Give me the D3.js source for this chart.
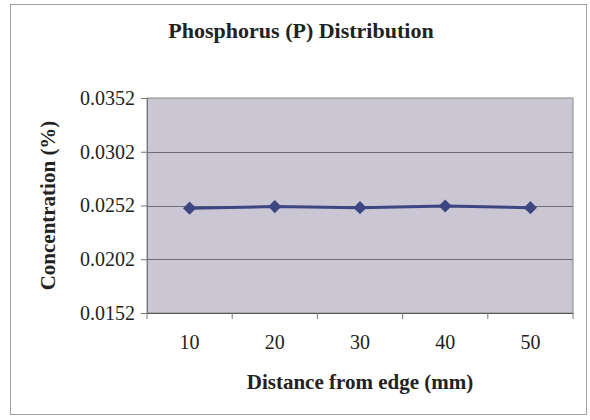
<!DOCTYPE html>
<html>
<head>
<meta charset="utf-8">
<script src="https://cdn.jsdelivr.net/npm/d3@7"></script>
<style>
  body { margin: 0; background: #fff; }
  text { font-family: "Liberation Serif", "Times New Roman", serif; fill: #222; }
</style>
</head>
<body>
<div id="chart"></div>
<script>
const distances = ["10", "20", "30", "40", "50"];
const concentration = [0.02495, 0.0251, 0.0250, 0.02515, 0.0250];
const yTicks = [0.0152, 0.0202, 0.0252, 0.0302, 0.0352];

const width = 590, height = 420;
const plot = { left: 147, right: 573, top: 98, bottom: 313 };

const svg = d3.select("#chart").append("svg")
  .attr("width", width)
  .attr("height", height);

// outer chart border
svg.append("rect")
  .attr("x", 10.5).attr("y", 4.5)
  .attr("width", 576).attr("height", 410)
  .attr("fill", "#fff")
  .attr("stroke", "#a0a0a0");

const x = d3.scaleBand()
  .domain(distances)
  .range([plot.left, plot.right]);

const y = d3.scaleLinear()
  .domain([0.0152, 0.0352])
  .range([plot.bottom, plot.top]);

// plot area
svg.append("rect")
  .attr("x", plot.left).attr("y", plot.top)
  .attr("width", plot.right - plot.left)
  .attr("height", plot.bottom - plot.top)
  .attr("fill", "#cbc6d4")
  .attr("stroke", "#8a8a8a");

// gridlines
svg.append("g")
  .selectAll("line")
  .data(yTicks.slice(1, -1))
  .enter()
  .append("line")
  .attr("x1", plot.left).attr("x2", plot.right)
  .attr("y1", d => Math.round(y(d)) + 0.5)
  .attr("y2", d => Math.round(y(d)) + 0.5)
  .attr("stroke", "#6e6e72")
  .attr("stroke-width", 1);

// y axis
const yAxis = svg.append("g")
  .attr("transform", `translate(${plot.left},0)`)
  .call(d3.axisLeft(y).tickValues(yTicks).tickFormat(d3.format(".4f")).tickSize(6).tickPadding(6));
yAxis.select(".domain").attr("stroke", "#777");
yAxis.selectAll(".tick line").attr("stroke", "#777");
yAxis.selectAll("text")
  .style("font-size", "20px")
  .attr("fill", "#222");

// x axis, ticks on category boundaries
const xAxis = svg.append("g")
  .attr("transform", `translate(0,${plot.bottom})`)
  .call(d3.axisBottom(x).tickSize(0).tickPadding(22));
xAxis.select(".domain").attr("stroke", "#555");
xAxis.selectAll("text")
  .style("font-size", "20px")
  .attr("fill", "#222");

svg.append("g")
  .selectAll("line")
  .data(distances.concat(["end"]))
  .enter()
  .append("line")
  .attr("x1", (d, i) => plot.left + i * x.step())
  .attr("x2", (d, i) => plot.left + i * x.step())
  .attr("y1", plot.bottom)
  .attr("y2", plot.bottom + 6)
  .attr("stroke", "#777");

// series line
const line = d3.line()
  .x((d, i) => x(distances[i]) + x.bandwidth() / 2)
  .y(d => y(d));

svg.append("path")
  .datum(concentration)
  .attr("d", line)
  .attr("fill", "none")
  .attr("stroke", "#3c4682")
  .attr("stroke-width", 3);

svg.append("g")
  .selectAll("path")
  .data(concentration)
  .enter()
  .append("path")
  .attr("d", d3.symbol().type(d3.symbolDiamond2).size(110))
  .attr("transform", (d, i) => `translate(${x(distances[i]) + x.bandwidth() / 2},${y(d)})`)
  .attr("fill", "#3c4682");

// titles
svg.append("text")
  .attr("x", 301).attr("y", 38)
  .attr("text-anchor", "middle")
  .style("font-size", "22px")
  .style("font-weight", "bold")
  .text("Phosphorus (P) Distribution");

svg.append("text")
  .attr("x", (plot.left + plot.right) / 2).attr("y", 389)
  .attr("text-anchor", "middle")
  .style("font-size", "21px")
  .style("font-weight", "bold")
  .text("Distance from edge (mm)");

svg.append("text")
  .attr("transform", `translate(55,${(plot.top + plot.bottom) / 2}) rotate(-90)`)
  .attr("text-anchor", "middle")
  .style("font-size", "21px")
  .style("font-weight", "bold")
  .text("Concentration (%)");
</script>
</body>
</html>
